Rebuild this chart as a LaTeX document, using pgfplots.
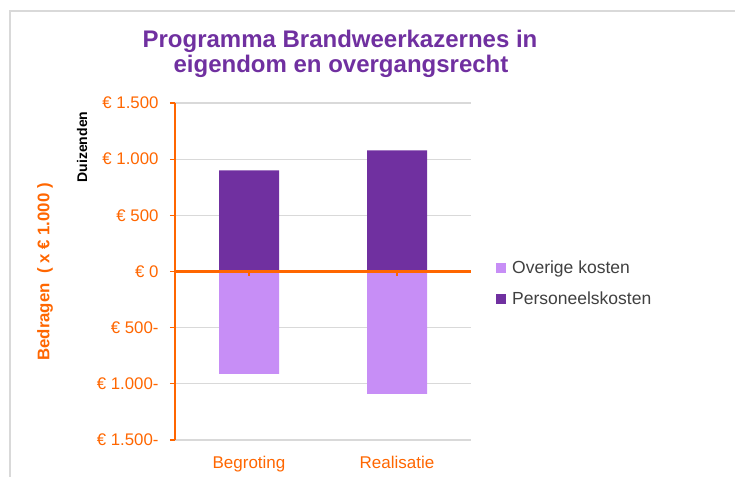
\documentclass[border=0pt]{standalone}
\usepackage{fontspec}
\setmainfont{Liberation Sans}
\usepackage{pgfplots}
\pgfplotsset{compat=1.18}
\definecolor{darkpurple}{HTML}{7030A0}
\definecolor{lightpurple}{HTML}{C78EF6}
\definecolor{xlorange}{RGB}{255,102,0}
\definecolor{gridgray}{HTML}{D9D9D9}
\definecolor{legtext}{HTML}{404040}
\begin{document}
\begin{tikzpicture}[x=1bp,y=1bp]
\path[use as bounding box] (-175,-37) rectangle (560,440);
\draw[gridgray, line width=1.2bp] (-165,-37) -- (-165,429) -- (560,429);
\begin{axis}[at={(0,0)}, anchor=south west, scale only axis,
  width=296bp, height=337bp,
  xmin=-0.5, xmax=1.5, ymin=-1500, ymax=1500,
  ybar, bar width=60bp,
  axis lines*=left,
  x axis line style={draw=none},
  y axis line style={xlorange, line width=1.2bp, -},
  xtick={0,1}, xticklabels={Begroting,Realisatie},
  xtick style={draw=none},
  ytick={-1500,-1000,-500,0,500,1000,1500},
  yticklabels={€ 1.500-,€ 1.000-,€ 500-,€ 0,€ 500,€ 1.000,€ 1.500},
  ytick style={xlorange, line width=1.2bp},
  tick align=outside, major tick length=5bp,
  yticklabel style={font=\fontsize{16.8bp}{19bp}\selectfont, text=xlorange, xshift=-8bp},
  xticklabel style={font=\fontsize{17bp}{20bp}\selectfont, text=xlorange, yshift=-8bp},
  ymajorgrids, grid style={gridgray, line width=1.3bp},
  legend style={draw=none, fill=none, at={(1,0.5)}, anchor=north west,
    xshift=22bp, yshift=15bp, row sep=13bp,
    font=\fontsize{17.5bp}{20bp}\selectfont, text=legtext},
  legend cell align=left,
  legend image code/.code={\fill[#1] (0bp,-5bp) rectangle (10bp,5bp); \path (14bp,0bp);},
]
\addplot[fill=lightpurple, draw=none, bar shift=0pt] coordinates {(0,-912) (1,-1090)};
\addlegendentry{Overige kosten}
\addplot[fill=darkpurple, draw=none, bar shift=0pt] coordinates {(0,900) (1,1078)};
\addlegendentry{Personeelskosten}
\coordinate (c0) at (axis cs:0,0);
\coordinate (c1) at (axis cs:1,0);
\end{axis}
\fill[fill={rgb,255:red,255;green,102;blue,0}] (0,167.4) rectangle (296,169.6);
\fill[xlorange] ([xshift=-0.6bp]c0) rectangle ([xshift=0.6bp,yshift=-5bp]c0);
\fill[xlorange] ([xshift=-0.6bp]c1) rectangle ([xshift=0.6bp,yshift=-5bp]c1);
\node[anchor=base, text=darkpurple, font=\bfseries\fontsize{24bp}{28bp}\selectfont] at (165,392) {Programma Brandweerkazernes in};
\node[anchor=base, text=darkpurple, font=\bfseries\fontsize{24bp}{28bp}\selectfont] at (166,367) {eigendom en overgangsrecht};
\node[rotate=90, text=xlorange, font=\bfseries\fontsize{16.8bp}{19bp}\selectfont] at (-130,168) {Bedragen\ \ ( x € 1.000 )};
\node[rotate=90, text=black, font=\bfseries\fontsize{14bp}{16bp}\selectfont] at (-93,293) {Duizenden};
\end{tikzpicture}
\end{document}
